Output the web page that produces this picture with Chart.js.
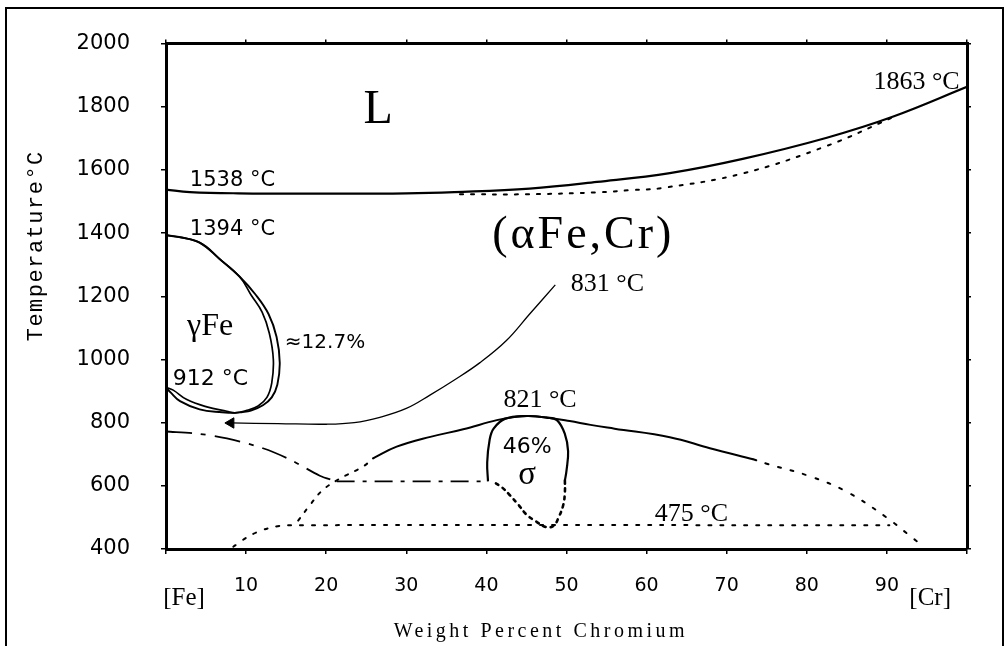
<!DOCTYPE html>
<html>
<head>
<meta charset="utf-8">
<title>Fe–Cr phase diagram</title>
<script src="https://cdn.jsdelivr.net/npm/chart.js@4.4.1/dist/chart.umd.min.js"></script>
<style>
  html, body { margin: 0; padding: 0; background: #fff; }
  canvas { display: block; }
</style>
</head>
<body>
<canvas id="c" width="1005" height="646"></canvas>
<script>
// Fe–Cr equilibrium diagram: temperature (°C) against weight percent chromium.

// Axis ticks
const pctTicks = [10, 20, 30, 40, 50, 60, 70, 80, 90];
const tempTicks = [400, 600, 800, 1000, 1200, 1400, 1600, 1800, 2000];

// Liquidus (solid) and solidus (dotted)
const liquidusPct  = [0, 3, 9, 20, 30, 36, 45.4, 53.8, 62.9, 72, 82.5, 90.8, 100];
const liquidusTemp = [1538, 1530, 1526, 1525, 1526, 1530, 1541, 1562, 1590, 1635, 1702, 1769, 1863];
const solidusPct   = [36.7, 45, 53.8, 58, 62, 72, 82.5, 90.5];
const solidusTemp  = [1523, 1523, 1529, 1536, 1543, 1589, 1676, 1764];

// Gamma loop: outer (alpha side) and inner (gamma side) boundaries
const gammaOuterPct  = [0, 2, 4.2, 6.7, 9.2, 11.2, 12.8, 13.8, 14.2, 13.9, 13.2, 12.1, 10.6, 9.4, 8.6, 7.0, 4.2, 1.75, 0.6, 0];
const gammaOuterTemp = [1394, 1386, 1370, 1318, 1262, 1205, 1144, 1072, 990, 920, 880, 855, 838, 833, 831, 833, 842, 868, 895, 912];
const gammaInnerPct  = [0, 4.2, 6.7, 9.2, 10.6, 12.0, 12.9, 13.4, 13.2, 12.6, 11.5, 10.0, 8.6, 7.6, 5.1, 2.6, 0.9, 0];
const gammaInnerTemp = [1394, 1370, 1318, 1262, 1205, 1150, 1083, 1000, 925, 880, 853, 838, 831, 836, 850, 873, 903, 912];

// Leader from the 831 °C note to the bottom of the gamma loop
const leaderPct  = [8.1, 14, 20, 23.5, 26.7, 30, 33, 36, 39.2, 42.5, 45.4, 48.6];
const leaderTemp = [799, 797, 795, 800, 817, 845, 888, 935, 990, 1060, 1144, 1236];

// Magnetic transition (dash-dot) and the horizontal at the sigma boundary
const magneticPct  = [0, 4, 7.6, 12.1, 15.5, 19.2, 21.3];
const magneticTemp = [772, 765, 750, 719, 683, 632, 614];
const sigmaTiePct  = [21.3, 40.2];
const sigmaTieTemp = [614, 614];

// Alpha / (alpha + sigma) dome
const domePct       = [25.9, 28.8, 33, 37.1, 41.3, 43.5, 45.3, 47.9, 50.4, 53, 56, 62.9, 67.9, 73.3];
const domeTemp      = [688, 724, 755, 779, 808, 818, 821, 815, 805, 793, 781, 754, 719, 684];
const domeLeftPct   = [16.5, 18, 19.5, 21.5, 24.6, 25.9];
const domeLeftTemp  = [490, 540, 585, 620, 661, 688];
const domeRightPct  = [73.3, 75, 80.4, 85, 90, 93.3, 94.5];
const domeRightTemp = [684, 670, 630, 581, 499, 433, 410];

// Sigma field around 46 % Cr
const sigmaSolidPct   = [40.2, 40.1, 40.4, 40.9, 42.3, 45, 47.5, 48.8, 49.8, 50.2, 50.0, 49.8];
const sigmaSolidTemp  = [614, 674, 745, 781, 812, 821, 816, 808, 764, 710, 648, 617];
const sigmaDottedPct  = [49.8, 49.8, 49.6, 49.0, 48.4, 47.5, 46.1, 45.0, 44.0, 42.9, 41.9, 40.9];
const sigmaDottedTemp = [617, 581, 540, 499, 474, 469, 489, 509, 540, 571, 596, 612];

// 475 °C line with its low-temperature boundary on the iron side
const line475Pct  = [8.4, 10.5, 12.8, 15, 90.3];
const line475Temp = [407, 443, 466, 475, 475];

const pts = (xs, ys) => xs.map((x, i) => ({ x, y: ys[i] }));

const SANS  = '"DejaVu Sans", sans-serif';
const SERIF = '"Liberation Serif", serif';
const MONO  = '"Liberation Mono", monospace';

function curve(label, xs, ys, width, dash, extra) {
  return Object.assign({
    label,
    data: pts(xs, ys),
    xAxisID: 'x',
    yAxisID: 'y',
    borderColor: '#000',
    backgroundColor: '#000',
    borderWidth: width,
    borderDash: dash || [],
    borderCapStyle: dash ? 'round' : 'butt',
    borderJoinStyle: 'round',
    tension: 0.4,
    pointRadius: 0,
    fill: false
  }, extra || {});
}

const datasets = [
  curve('Liquidus', liquidusPct, liquidusTemp, 2.2),
  curve('Solidus', solidusPct, solidusTemp, 2, [3, 8]),
  curve('γ loop, α side', gammaOuterPct, gammaOuterTemp, 1.9),
  curve('γ loop, γ side', gammaInnerPct, gammaInnerTemp, 1.7),
  curve('831 °C leader', leaderPct, leaderTemp, 1.3, null, {
    pointRadius: ctx => ctx.dataIndex === 0 ? 6 : 0,
    pointStyle: 'triangle',
    pointRotation: -90,
    pointBackgroundColor: '#000',
    pointBorderColor: '#000',
    pointBorderWidth: 1
  }),
  curve('Magnetic transition', magneticPct, magneticTemp, 1.8, [26, 9, 5, 9], { borderCapStyle: 'butt', tension: 0.3 }),
  curve('Sigma tie', sigmaTiePct, sigmaTieTemp, 1.8, [18, 8, 4, 8], { borderCapStyle: 'butt', tension: 0 }),
  curve('α/(α+σ)', domePct, domeTemp, 2),
  curve('α/(α+σ) left', domeLeftPct, domeLeftTemp, 2, [3, 8]),
  curve('α/(α+σ) right', domeRightPct, domeRightTemp, 2, [3, 10]),
  curve('σ', sigmaSolidPct, sigmaSolidTemp, 2.2),
  curve('σ lower', sigmaDottedPct, sigmaDottedTemp, 2.6, [3, 5]),
  curve('475 °C', line475Pct, line475Temp, 2, [3, 9], { tension: 0.3 })
];

// Notes written on the diagram (placed in data units; baseline at temp)
const notes = [
  { text: 'L',        pct: 26.5,  temp: 1748, font: `48px ${SERIF}` },
  { text: '(αFe,Cr)', pct: 52.1,  temp: 1352, font: `46px ${SERIF}`, spacing: 3 },
  { text: '1863 °C',  pct: 93.7,  temp: 1856, font: `26px ${SERIF}` },
  { text: '1538 °C',  pct: 8.3,   temp: 1548, font: `21px ${SANS}` },
  { text: '1394 °C',  pct: 8.3,   temp: 1395, font: `21px ${SANS}` },
  { text: 'γFe',      pct: 5.5,   temp: 1079, font: `32px ${SERIF}` },
  { text: '≈12.7%',   pct: 19.85, temp: 1036, font: `20px ${SANS}` },
  { text: '912 °C',   pct: 5.56,  temp: 919,  font: `22px ${SANS}` },
  { text: '831 °C',   pct: 55.1,  temp: 1217, font: `26px ${SERIF}` },
  { text: '821 °C',   pct: 46.7,  temp: 851,  font: `26px ${SERIF}` },
  { text: '46%',      pct: 45.1,  temp: 704,  font: `22px ${SANS}` },
  { text: 'σ',        pct: 45.1,  temp: 606,  font: `33px ${SERIF}` },
  { text: '475 °C',   pct: 65.6,  temp: 489,  font: `26px ${SERIF}` },
  { text: '[Fe]',     pct: 2.25,  temp: 223,  font: `25px ${SERIF}` },
  { text: '[Cr]',     pct: 95.4,  temp: 223,  font: `25px ${SERIF}` }
];

const framePlugin = {
  id: 'frame',
  beforeDraw(chart) {
    const { ctx, width, height } = chart;
    ctx.save();
    ctx.fillStyle = '#fff';
    ctx.fillRect(0, 0, width, height);
    ctx.strokeStyle = '#000';
    ctx.lineWidth = 2;
    ctx.beginPath();
    ctx.moveTo(6, height + 5);
    ctx.lineTo(6, 8);
    ctx.lineTo(width - 2, 8);
    ctx.lineTo(width - 2, height + 5);
    ctx.stroke();
    ctx.restore();
  }
};

const notesPlugin = {
  id: 'notes',
  afterDraw(chart) {
    const { ctx } = chart;
    const xs = chart.scales.x, ys = chart.scales.y;
    ctx.save();
    ctx.fillStyle = '#000';
    ctx.textAlign = 'center';
    ctx.textBaseline = 'alphabetic';
    for (const n of notes) {
      ctx.font = n.font;
      ctx.letterSpacing = (n.spacing || 0) + 'px';
      ctx.fillText(n.text, xs.getPixelForValue(n.pct), ys.getPixelForValue(n.temp));
    }
    // axis titles
    ctx.font = `20px ${SERIF}`;
    ctx.letterSpacing = '3.5px';
    ctx.fillText('Weight Percent Chromium', xs.getPixelForValue(46.8), chart.chartArea.bottom + 88);
    ctx.translate(chart.chartArea.left - 124, ys.getPixelForValue(1360));
    ctx.rotate(-Math.PI / 2);
    ctx.font = `22px ${MONO}`;
    ctx.letterSpacing = '1.5px';
    ctx.fillText('Temperature°C', 0, 0);
    ctx.restore();
  }
};

const axisBorder = { display: true, color: '#000', width: 3 };
const tickGrid = { display: true, drawOnChartArea: false, drawTicks: true, tickLength: 5, color: '#000', lineWidth: 1.5 };

new Chart(document.getElementById('c'), {
  type: 'line',
  data: { datasets },
  options: {
    responsive: false,
    animation: false,
    devicePixelRatio: 1,
    layout: { padding: 0 },
    plugins: { legend: { display: false }, tooltip: { enabled: false } },
    scales: {
      x: {
        type: 'linear', position: 'bottom', min: 0, max: 100,
        afterBuildTicks: s => { s.ticks = [0, ...pctTicks, 100].map(v => ({ value: v })); },
        afterFit: s => { s.height = 97; },
        ticks: {
          color: '#000', padding: 21, maxRotation: 0, autoSkip: false,
          font: { family: '"DejaVu Sans", sans-serif', size: 19 },
          callback: v => pctTicks.includes(v) ? String(v) : ''
        },
        border: axisBorder, grid: tickGrid
      },
      y: {
        type: 'linear', position: 'left', min: 400, max: 2000,
        afterBuildTicks: s => { s.ticks = tempTicks.map(v => ({ value: v })); },
        afterFit: s => { s.width = 166; },
        ticks: {
          color: '#000', padding: 31, autoSkip: false,
          font: { family: '"DejaVu Sans", sans-serif', size: 21 },
          callback: v => String(v)
        },
        border: axisBorder, grid: tickGrid
      },
      x2: {
        type: 'linear', position: 'top', min: 0, max: 100,
        afterBuildTicks: s => { s.ticks = [0, ...pctTicks, 100].map(v => ({ value: v })); },
        afterFit: s => { s.height = 28; },
        ticks: { display: false },
        border: axisBorder, grid: Object.assign({}, tickGrid, { tickLength: 4 })
      },
      y2: {
        type: 'linear', position: 'right', min: 400, max: 2000,
        afterBuildTicks: s => { s.ticks = tempTicks.map(v => ({ value: v })); },
        afterFit: s => { s.width = 38; },
        ticks: { display: false },
        border: axisBorder, grid: Object.assign({}, tickGrid, { tickLength: 4 })
      }
    }
  },
  plugins: [framePlugin, notesPlugin]
});
</script>
</body>
</html>
